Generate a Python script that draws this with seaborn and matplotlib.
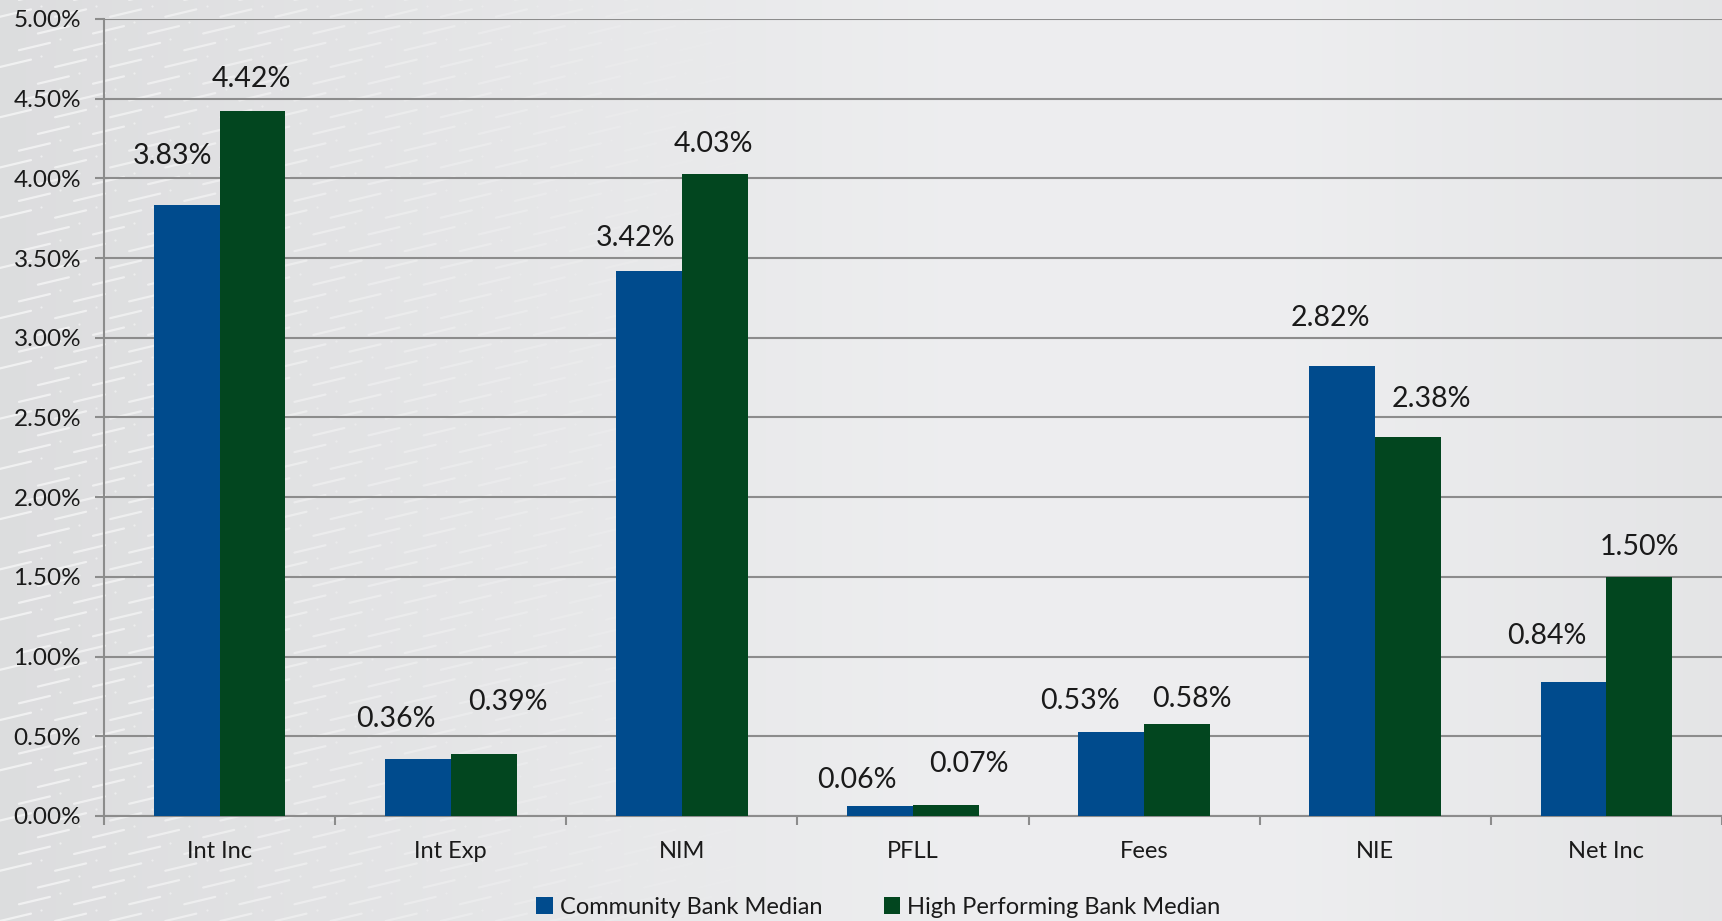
import numpy as np
import pandas as pd
import matplotlib
matplotlib.use("Agg")
import matplotlib.pyplot as plt
from matplotlib.ticker import FuncFormatter, FixedLocator
from matplotlib.patches import Patch
import seaborn as sns

# ---- data ----
categories = ["Int Inc", "Int Exp", "NIM", "PFLL", "Fees", "NIE", "Net Inc"]
community = [3.83, 0.36, 3.42, 0.06, 0.53, 2.82, 0.84]
high_perf = [4.42, 0.39, 4.03, 0.07, 0.58, 2.38, 1.50]
series_names = ["Community Bank Median", "High Performing Bank Median"]
y_ticks = [0.0, 0.5, 1.0, 1.5, 2.0, 2.5, 3.0, 3.5, 4.0, 4.5, 5.0]

# label nudges (pixels) so the value labels sit clear of each other
label_dx = {0: [-14, -22, -13, -23, -31, -12, -27], 1: [-1, 24, -1, 23, 15, 23, 0]}
label_dy = {0: [49, 40, 33, 26, 31, 48, 46], 1: [32, 52, 30, 41, 25, 38, 30]}

colors = ["#004B8D", "#02461F"]

df = pd.DataFrame({
    "category": categories * 2,
    "series": [series_names[0]] * len(categories) + [series_names[1]] * len(categories),
    "value": community + high_perf,
})

sns.set_theme(style="white")
plt.rcParams["font.family"] = ["Lato", "DejaVu Sans"]

W, H = 1722, 921
fig = plt.figure(figsize=(W / 100, H / 100), dpi=100)

# ---- background: soft grey gradient with faint diagonal streaks on the left ----
bg = fig.add_axes([0, 0, 1, 1], zorder=-10)
xs = np.linspace(0, 1, 400)
ys = np.linspace(0, 1, 200)
X, Y = np.meshgrid(xs, ys)
base = 0.865 + 0.065 * np.clip(X / 0.55, 0, 1) - 0.035 * np.clip((X - 0.75) / 0.25, 0, 1)
img = np.dstack([base, base + 0.002, base + 0.008])
bg.imshow(np.clip(img, 0, 1), extent=[0, 1, 0, 1], aspect="auto", origin="lower")
for row in range(60):
    y0 = row / 55.0
    for col in range(14):
        x0 = col * 0.032 + (row % 3) * 0.011
        fade = max(0.0, 1 - x0 / 0.45)
        if fade <= 0:
            continue
        bg.plot([x0, x0 + 0.018], [y0, y0 + 0.008], color="white",
                lw=1.6, alpha=0.6 * fade, solid_capstyle="round")
        bg.plot([x0 + 0.024], [y0 + 0.012], marker="o", ms=1.6, color="white",
                alpha=0.5 * fade, mec="none")
bg.set_xlim(0, 1)
bg.set_ylim(0, 1)
bg.axis("off")

# ---- main chart ----
ax = fig.add_axes([104 / W, 1 - 816 / H, 1 - 104 / W, (816 - 19) / H])
ax.set_facecolor("none")

sns.barplot(data=df, x="category", y="value", hue="series", order=categories,
            hue_order=series_names, palette=colors, saturation=1, width=0.57,
            edgecolor="none", linewidth=0, ax=ax, legend=False, zorder=3)

ax.set_ylim(0, 5.0)
ax.set_xlim(-0.5, len(categories) - 0.5)
ax.yaxis.set_major_locator(FixedLocator(y_ticks))
ax.yaxis.set_major_formatter(FuncFormatter(lambda v, p: f"{v:.2f}%"))
ax.grid(axis="y", color="#8C8C8C", lw=1.5, zorder=0)
ax.grid(axis="x", visible=False)

for s in ["top", "right"]:
    ax.spines[s].set_visible(False)
for s in ["left", "bottom"]:
    ax.spines[s].set_color("#8C8C8C")
    ax.spines[s].set_linewidth(1.5)

ax.tick_params(axis="y", which="major", left=True, length=6.5, width=1.5,
               color="#8C8C8C", labelsize=17.5, labelcolor="#1a1a1a", pad=10)
ax.tick_params(axis="x", which="major", bottom=False, length=0,
               labelsize=17, labelcolor="#1a1a1a", pad=18)
ax.xaxis.set_minor_locator(FixedLocator(np.arange(-0.5, len(categories) + 0.5, 1)))
ax.tick_params(axis="x", which="minor", bottom=True, length=6.5, width=1.5,
               color="#8C8C8C")
ax.set_xlabel("")
ax.set_ylabel("")

# value labels
for si, cont in enumerate(ax.containers):
    vals = community if si == 0 else high_perf
    for i, (bar, v) in enumerate(zip(cont, vals)):
        cx = bar.get_x() + bar.get_width() / 2
        ax.annotate(f"{v:.2f}%", (cx, bar.get_height()),
                    xytext=(label_dx[si][i], label_dy[si][i]),
                    textcoords="offset pixels", ha="center", va="center",
                    fontsize=20.5, color="#1a1a1a", zorder=5)

# legend
handles = [Patch(facecolor=c, edgecolor="none") for c in colors]
fig.legend(handles, series_names, loc="center", bbox_to_anchor=(0.51, 1 - 907 / H),
           ncol=2, frameon=False, fontsize=17, handlelength=0.7, handleheight=0.7,
           handletextpad=0.3, columnspacing=2.6, labelcolor="#1a1a1a")

fig.savefig("out.png", dpi=100)
